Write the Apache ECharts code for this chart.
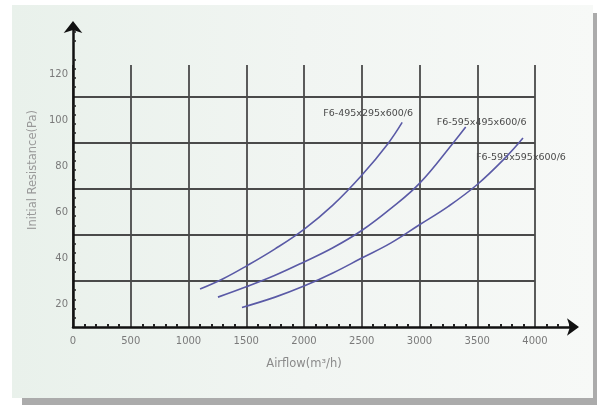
<!DOCTYPE html>
<html>
<head>
<meta charset="utf-8">
<script src="https://cdn.jsdelivr.net/npm/echarts@6/dist/echarts.min.js"></script>
<style>
html,body{margin:0;padding:0;background:#ffffff;}
#chart{width:601px;height:405px;}
</style>
</head>
<body>
<div id="chart"></div>
<script>
// ---- data ----
const seriesNames = ['F6-495x295x600/6', 'F6-595x495x600/6', 'F6-595x595x600/6'];
const airflow1 = [1100, 1300, 1500, 1750, 2000, 2250, 2500, 2730, 2850];
const resist1  = [26.5, 31, 36.5, 44, 52.5, 63, 76, 90, 99];
const airflow2 = [1255, 1500, 1750, 2000, 2250, 2500, 2750, 3000, 3290, 3400];
const resist2  = [23, 27.5, 32.5, 38.3, 44.5, 52, 61.5, 72.5, 90, 97];
const airflow3 = [1463, 1750, 2000, 2250, 2500, 2750, 3000, 3250, 3500, 3750, 3896];
const resist3  = [18.5, 23, 27.8, 33.5, 40, 46.5, 54.5, 62.5, 72, 84, 92.2];
const xTicks = [0, 500, 1000, 1500, 2000, 2500, 3000, 3500, 4000];
const yTickLabels = [20, 40, 60, 80, 100, 120];

const chart = echarts.init(document.getElementById('chart'), null, {renderer: 'canvas'});
const font = 'DejaVu Sans';
const curveColor = '#5a5aa6';
const labelOffsets = [[-34, -9], [16, -5], [-2, 19]];

function pairs(xs, ys) { return xs.map((x, i) => [x, ys[i]]); }
const curves = [pairs(airflow1, resist1), pairs(airflow2, resist2), pairs(airflow3, resist3)];

const series = curves.map((d, k) => ({
  name: seriesNames[k],
  type: 'line',
  xAxisIndex: 0,
  yAxisIndex: 0,
  data: d,
  smooth: 0.4,
  showSymbol: false,
  silent: true,
  lineStyle: {color: curveColor, width: 1.6},
  itemStyle: {color: curveColor},
  z: 5,
  markPoint: {
    symbol: 'circle',
    symbolSize: 0,
    silent: true,
    data: [{coord: d[d.length - 1], value: seriesNames[k]}],
    label: {
      show: true,
      position: 'inside',
      formatter: seriesNames[k],
      offset: labelOffsets[k],
      color: '#4a4a4a',
      fontFamily: font,
      fontSize: 9.5
    }
  }
}));

const option = {
  backgroundColor: '#ffffff',
  animation: false,
  graphic: [
    {type: 'rect', shape: {x: 22, y: 13, width: 575, height: 392}, style: {fill: '#ababab'}, z: -10},
    {type: 'rect', shape: {x: 12, y: 5, width: 581, height: 393},
     style: {fill: new echarts.graphic.LinearGradient(0, 0, 1, 0, [
       {offset: 0, color: '#e9f1eb'}, {offset: 0.5, color: '#f1f5f2'}, {offset: 1, color: '#f7f9f7'}])}, z: -9}
  ],
  grid: [
    {left: 73, top: 65, right: 66, bottom: 78},
    {left: 73, top: 27, right: 28, bottom: 78}
  ],
  xAxis: [
    {
      type: 'value', gridIndex: 0, min: xTicks[0], max: xTicks[xTicks.length - 1], interval: 500,
      axisLine: {show: false},
      axisTick: {show: false},
      axisLabel: {show: true, margin: 9, color: '#7a7a7a', fontFamily: font, fontSize: 10,
                  formatter: v => String(v)},
      splitLine: {show: true, lineStyle: {color: '#4a4a4a', width: 1.8}},
      name: 'Airflow(m³/h)', nameLocation: 'middle', nameGap: 31,
      nameTextStyle: {color: '#8a8a8a', fontFamily: font, fontSize: 11.5}
    },
    {
      type: 'value', gridIndex: 1, min: 0, max: 4330, interval: 500,
      axisLine: {show: true, lineStyle: {color: '#111', width: 2.5}, symbol: ['none', 'arrow'], symbolSize: [13, 12], symbolOffset: [0, 6]},
      axisTick: {show: false, inside: true},
      minorTick: {show: true, splitNumber: 5, length: 3, lineStyle: {color: '#222', width: 2}},
      axisLabel: {show: false},
      splitLine: {show: false}
    }
  ],
  yAxis: [
    {
      type: 'value', gridIndex: 0, min: 10, max: 124, interval: 20,
      axisLine: {show: false},
      axisTick: {show: false},
      axisLabel: {show: false},
      splitLine: {show: true, showMinLine: false, showMaxLine: false, lineStyle: {color: '#4a4a4a', width: 1.8}}
    },
    {
      type: 'value', gridIndex: 0, min: 10, max: 124, interval: 10, position: 'left',
      axisLine: {show: false},
      axisTick: {show: false},
      splitLine: {show: false},
      axisLabel: {
        show: true, margin: 5, color: '#7a7a7a', fontFamily: font, fontSize: 10,
        formatter: v => (yTickLabels.indexOf(v) >= 0 ? String(v) : '')
      }
    },
    {
      type: 'value', gridIndex: 1, min: 10, max: 140, interval: 20,
      axisLine: {show: true, lineStyle: {color: '#111', width: 2.5}, symbol: ['none', 'arrow'], symbolSize: [14, 12], symbolOffset: [0, 6]},
      axisTick: {show: false, inside: true},
      minorTick: {show: true, splitNumber: 5, length: 3, lineStyle: {color: '#222', width: 1.5}},
      axisLabel: {show: false},
      splitLine: {show: false},
      name: 'Initial Resistance(Pa)', nameLocation: 'middle', nameGap: 34,
      nameTextStyle: {color: '#999', fontFamily: font, fontSize: 11.5, padding: [0, 0, 0, 14]}
    }
  ],
  series: series
};
chart.setOption(option);
</script>
</body>
</html>
